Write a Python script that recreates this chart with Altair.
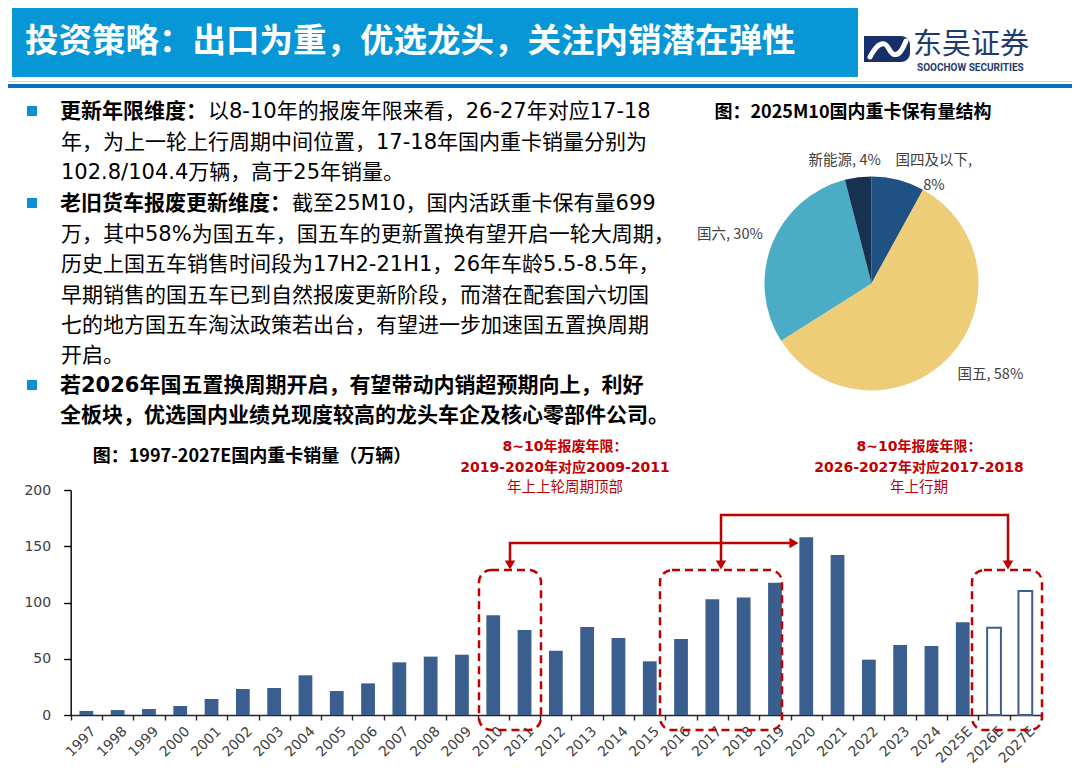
import altair as alt
import pandas as pd

# ---------------- chart data ----------------
years = ["1997", "1998", "1999", "2000", "2001", "2002", "2003", "2004", "2005", "2006",
         "2007", "2008", "2009", "2010", "2011", "2012", "2013", "2014", "2015", "2016",
         "2017", "2018", "2019", "2020", "2021", "2022", "2023", "2024", "2025E", "2026E", "2027E"]
sales = [3.6, 4.4, 5.3, 8.0, 14.2, 23.1, 24.0, 35.3, 21.3, 28.1,
         46.8, 51.9, 53.6, 88.6, 75.6, 57.2, 78.2, 68.4, 47.7, 67.6,
         102.8, 104.4, 117.6, 157.9, 142.2, 49.2, 62.2, 61.3, 82.4, 77.6, 110.2]
forecast_years = ["2026E", "2027E"]
y_ticks = [0, 50, 100, 150, 200]

pie_cats = ["国四及以下", "国五", "国六", "新能源"]
pie_share = [8, 58, 30, 4]
pie_text = ["国四及以下,\n8%", "国五, 58%", "国六, 30%", "新能源, 4%"]

# ---------------- slide text ----------------
header_title = "投资策略：出口为重，优选龙头，关注内销潜在弹性"
logo_cn = "东吴证券"
logo_en = "SOOCHOW SECURITIES"
pie_title = "图：2025M10国内重卡保有量结构"
bar_title = "图：1997-2027E国内重卡销量（万辆）"
body = [
    ("更新年限维度：", "以8-10年的报废年限来看，26-27年对应17-18"),
    ("", "年，为上一轮上行周期中间位置，17-18年国内重卡销量分别为"),
    ("", "102.8/104.4万辆，高于25年销量。"),
    ("老旧货车报废更新维度：", "截至25M10，国内活跃重卡保有量699"),
    ("", "万，其中58%为国五车，国五车的更新置换有望开启一轮大周期，"),
    ("", "历史上国五车销售时间段为17H2-21H1，26年车龄5.5-8.5年，"),
    ("", "早期销售的国五车已到自然报废更新阶段，而潜在配套国六切国"),
    ("", "七的地方国五车淘汰政策若出台，有望进一步加速国五置换周期"),
    ("", "开启。"),
    ("若2026年国五置换周期开启，有望带动内销超预期向上，利好", ""),
    ("全板块，优选国内业绩兑现度较高的龙头车企及核心零部件公司。", ""),
]
bullet_lines = [0, 3, 9]
note_left = ["8~10年报废年限：", "2019-2020年对应2009-2011", "年上上轮周期顶部"]
note_right = ["8~10年报废年限：", "2026-2027年对应2017-2018", "年上行期"]

# ---------------- layout / style ----------------
W, H = 1064, 758
M = 8
FONT = "Noto Sans CJK SC"
BODY_FONT = "DejaVu Sans, Noto Sans CJK SC"
RED = "#C00000"
BAR = "#3A5F8E"
FS = 21
LINE_Y = [112, 143, 173, 204, 235, 265, 296, 326, 356, 386, 416]

PXS = alt.Scale(domain=[M, M + W], range=[0, W], zero=False, nice=False)
PYS = alt.Scale(domain=[M, M + H], range=[0, H], zero=False, nice=False)


def X(f):
    return alt.X(f"{f}:Q", scale=PXS, axis=None)


def Y(f):
    return alt.Y(f"{f}:Q", scale=PYS, axis=None)


def texts(rows, **mark):
    df = pd.DataFrame(rows, columns=["px", "py", "t"])
    opts = dict(font=FONT, baseline="middle", align="left")
    opts.update(mark)
    return alt.Chart(df).mark_text(**opts).encode(x=X("px"), y=Y("py"), text="t:N")


def rects(rows, **mark):
    df = pd.DataFrame(rows, columns=["x1", "x2", "y1", "y2"])
    return alt.Chart(df).mark_rect(**mark).encode(x=X("x1"), x2="x2", y=Y("y1"), y2="y2")


layers = []

# header
layers.append(rects([(12, 858, 7, 77)], color="#0796D6"))
layers.append(texts([(25, 42, header_title)], fontSize=33.5, fontWeight="bold", color="white"))
layers.append(rects([(864, 910, 36, 62)], color="#17306A", cornerRadiusTopRight=9, cornerRadiusBottomRight=9))
logo_curve = pd.DataFrame({"px": [870, 876, 885, 889, 893, 901, 906],
                           "py": [57, 46, 42, 49, 56, 53, 41], "o": list(range(7))})
layers.append(alt.Chart(logo_curve).mark_line(color="white", strokeWidth=5, interpolate="basis",
                                               strokeCap="round").encode(x=X("px"), y=Y("py"), order="o:Q"))
layers.append(texts([(913, 45, logo_cn)], fontSize=29, color="#1E3A6E"))
layers.append(texts([(917, 68, logo_en)], fontSize=10, fontWeight="bold", color="#1E3A6E", font="Roboto"))
layers.append(rects([(8, 1072, 81, 82)], color="#CFCFCF"))
layers.append(rects([(8, 1072, 84, 88)], color="#0B6FC1"))

# body text
bold_rows, norm_rows = [], []
for i, (b, n) in enumerate(body):
    if b:
        bold_rows.append((60, LINE_Y[i], b))
    if n:
        norm_rows.append((60 + len(b) * FS + 1, LINE_Y[i], n))
bul = pd.DataFrame({"px": [32] * len(bullet_lines), "py": [LINE_Y[i] - 1 for i in bullet_lines]})
layers.append(alt.Chart(bul).mark_square(size=100, color="#0C8FD6", opacity=1).encode(x=X("px"), y=Y("py")))
layers.append(texts(bold_rows, fontSize=FS, fontWeight="bold", color="#000000", font=BODY_FONT))
layers.append(texts(norm_rows, fontSize=FS, color="#000000", font=BODY_FONT))

# titles
layers.append(texts([(853, 113, pie_title), (252, 457, bar_title)], fontSize=18, fontWeight="bold",
                    color="#000000", align="center"))

# ---------------- bar chart ----------------
bar_df = pd.DataFrame({"year": years, "sales": sales})
bar_df["kind"] = ["forecast" if y in forecast_years else "actual" for y in years]
XB = alt.Scale(domain=years, range=[70.7 - M, 1041 - M], paddingInner=0, paddingOuter=0)
YB = alt.Scale(domain=[0, 200], range=[715 - M, 490 - M], nice=False, zero=True)

solid = alt.Chart(bar_df).transform_filter(alt.datum.kind == "actual").mark_bar(
    width=alt.RelativeBandSize(0.44), color=BAR
).encode(
    x=alt.X("year:N", scale=XB, sort=years,
            axis=alt.Axis(orient="bottom", offset=(715 - M) - H, tickBand="extent", labelAngle=-45,
                          labelFont="DejaVu Sans", labelFontSize=14, labelColor="#404040", tickSize=5,
                          tickColor="#262626", domainColor="#262626", domainWidth=1.4, tickWidth=1.4,
                          labelPadding=4, labelOffset=2, labelOverlap=False, title="", grid=False)),
    y=alt.Y("sales:Q", scale=YB,
            axis=alt.Axis(orient="left", offset=-(70.7 - M), values=y_ticks, tickSize=7, labelPadding=13,
                          labelFont="DejaVu Sans", labelFontSize=14, labelColor="#404040", tickColor="#000000",
                          domainColor="#000000", domainWidth=1.4, tickWidth=1.4, title="", grid=False)),
)
hollow = alt.Chart(bar_df).transform_filter(alt.datum.kind == "forecast").mark_bar(
    width=alt.RelativeBandSize(0.44), fill="white", stroke=BAR, strokeWidth=2
).encode(
    x=alt.X("year:N", scale=XB, sort=years, axis=None),
    y=alt.Y("sales:Q", scale=YB, axis=None),
)
layers += [solid, hollow]

# annotations
layers.append(rects([(479, 541, 570, 730), (660, 782, 570, 730), (972, 1042, 570, 730)],
                    fillOpacity=0, stroke=RED, strokeWidth=2.5, strokeDash=[8, 5], cornerRadius=12))
arrow_df = pd.DataFrame([("a", 0, 510, 566), ("a", 1, 510, 543), ("a", 2, 794, 543),
                         ("b", 0, 721, 566), ("b", 1, 721, 515), ("b", 2, 1008, 515), ("b", 3, 1008, 566)],
                        columns=["g", "o", "px", "py"])
layers.append(alt.Chart(arrow_df).mark_line(color=RED, strokeWidth=2.5).encode(
    x=X("px"), y=Y("py"), detail="g:N", order="o:Q"))
hd = pd.DataFrame({"px": [510, 721, 1008], "py": [565, 565, 565]})
layers.append(alt.Chart(hd).mark_point(shape="triangle-down", filled=True, size=110, color=RED, opacity=1)
              .encode(x=X("px"), y=Y("py")))
hr = pd.DataFrame({"px": [794], "py": [543]})
layers.append(alt.Chart(hr).mark_point(shape="triangle-right", filled=True, size=110, color=RED, opacity=1)
              .encode(x=X("px"), y=Y("py")))
layers.append(texts([(565, 447, note_left[0]), (565, 467.5, note_left[1]),
                     (919, 447, note_right[0]), (919, 467.5, note_right[1])],
                    fontSize=14, fontWeight="bold", color=RED, align="center", font=BODY_FONT))
layers.append(texts([(565, 488, note_left[2]), (919, 488, note_right[2])],
                    fontSize=14.5, color=RED, align="center"))

# ---------------- pie chart ----------------
PIE_X, PIE_Y, PIE_R = 871.5 - M, 283.5 - M, 107
pie_df = pd.DataFrame({"cat": pie_cats, "share": pie_share, "label": pie_text, "o": list(range(4))})
pie_colors = alt.Scale(domain=pie_cats, range=["#1F5283", "#EDCD78", "#4BACC6", "#17314F"])
pie = alt.Chart(pie_df).mark_arc(radius=PIE_R).encode(
    theta=alt.Theta("share:Q", stack=True),
    color=alt.Color("cat:N", scale=pie_colors, legend=None),
    order=alt.Order("o:Q"),
    x=alt.value(PIE_X), y=alt.value(PIE_Y),
)
layers.append(pie)

TH = alt.Scale(domain=[0, 100], range=[0, 6.283185307])


def pie_label(cat, align, dx, dy):
    return alt.Chart(pie_df).transform_window(
        cum="sum(share)", sort=[alt.SortField("o")]
    ).transform_calculate(mid="datum.cum - datum.share / 2").transform_filter(
        alt.datum.cat == cat
    ).mark_text(radius=118, align=align, baseline="middle", dx=dx, dy=dy, font=FONT, fontSize=14.5,
                color="#404040", lineBreak="\n", lineHeight=25).encode(
        theta=alt.Theta("mid:Q", scale=TH), text="label:N",
        x=alt.value(PIE_X), y=alt.value(PIE_Y),
    )


layers += [pie_label("国四及以下", "center", 33, -8), pie_label("国五", "left", 0, 11),
           pie_label("国六", "right", 1, -5), pie_label("新能源", "center", -12, -5)]

chart = alt.layer(*layers).resolve_scale(
    x="independent", y="independent", theta="independent", color="independent"
).properties(
    width=W, height=H, padding=0, background="white",
    autosize=alt.AutoSizeParams(type="none"),
).configure_view(strokeWidth=0)

chart.save("out.html", embed_options={"renderer": "svg", "actions": False})
